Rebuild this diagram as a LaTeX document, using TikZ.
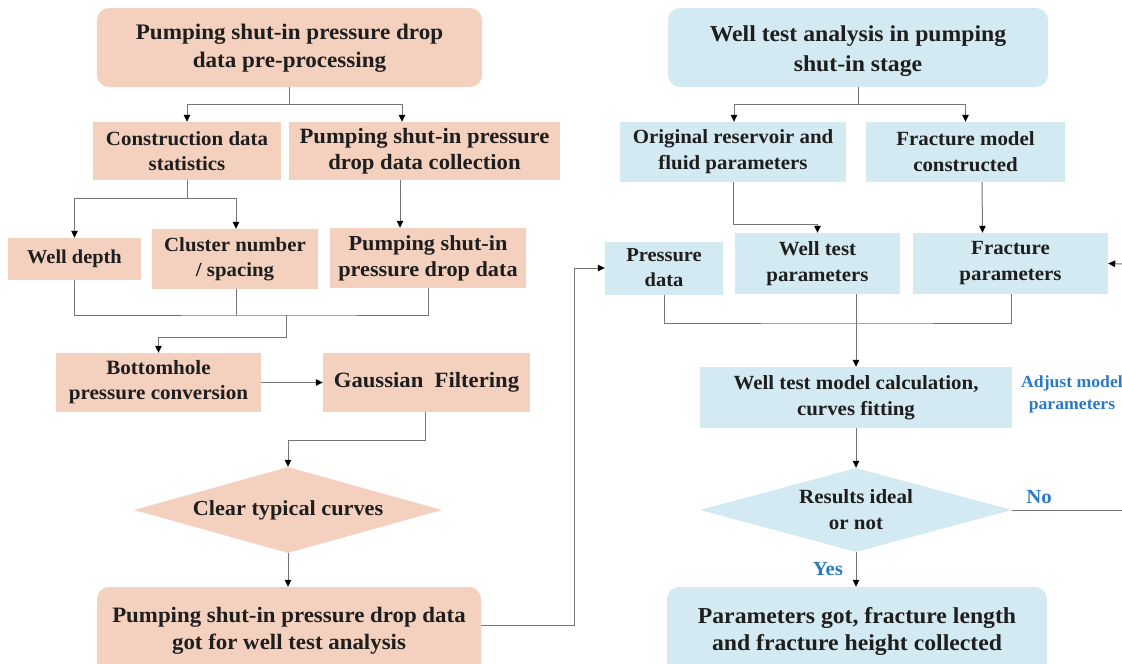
\documentclass[tikz,border=0pt]{standalone}
\usepackage{fontspec}
\setmainfont{Liberation Serif}[FakeStretch=1.04]
\usetikzlibrary{arrows.meta,shapes.geometric,calc}
\definecolor{peach}{RGB}{244,208,190}
\definecolor{sky}{RGB}{212,234,242}
\definecolor{lc}{RGB}{118,118,118}
\definecolor{bt}{RGB}{44,122,196}
\definecolor{tx}{RGB}{30,30,30}
\tikzset{
  box/.style={draw=none, inner sep=2pt, align=center, text=tx},
  pbox/.style={box, fill=peach},
  bbox/.style={box, fill=sky},
  rbox/.style={rounded corners=12pt},
  ln/.style={draw=lc, line width=1pt},
  arr/.style={ln, -{Triangle[length=7pt,width=6.5pt,color=black]}},
  lbl/.style={text=bt, inner sep=0pt, align=center},
}
\begin{document}
\begin{tikzpicture}[x=1pt,y=-1pt]
\useasboundingbox (0,0) rectangle (1122,664);
% ---------- left column ----------
\node[pbox,rbox,minimum width=385,minimum height=79] (L1) at (289.5,47.5) {};
\node[box,font=\bfseries\fontsize{22.2}{28}\selectfont] (L1t) at (289.5,48.5) {Pumping shut-in pressure drop\\data pre-processing};
\node[pbox,minimum width=188,minimum height=58,font=\bfseries\fontsize{20.1}{25}\selectfont] (L2a) at (187,151) {Construction data\\statistics};
\node[pbox,minimum width=271,minimum height=58,font=\bfseries\fontsize{21.8}{26}\selectfont] (L2b) at (424.5,151) {Pumping shut-in pressure\\drop data collection};
\node[pbox,minimum width=133,minimum height=42,font=\bfseries\fontsize{19.6}{24}\selectfont] (L3a) at (74.5,259) {Well depth};
\node[pbox,minimum width=166,minimum height=60,font=\bfseries\fontsize{20}{25}\selectfont] (L3b) at (235,259) {Cluster number\\/ spacing};
\node[pbox,minimum width=196,minimum height=60,font=\bfseries\fontsize{21.4}{26}\selectfont] (L3c) at (428,258) {Pumping shut-in\\pressure drop data};
\node[pbox,minimum width=205,minimum height=59,font=\bfseries\fontsize{20.3}{25}\selectfont] (L4a) at (158.5,382.5) {Bottomhole\\pressure conversion};
\node[pbox,minimum width=207,minimum height=59,font=\bfseries\fontsize{21.8}{26}\selectfont] (L4b) at (426.5,382.5) {Gaussian\ \ Filtering};
\node[diamond,fill=peach,draw=none,inner sep=0pt,minimum width=308,minimum height=86] (D1) at (288,510) {};
\node[box,font=\bfseries\fontsize{21.4}{26}\selectfont] (D1t) at (D1.center) {Clear typical curves};
\node[pbox,rbox,minimum width=384,minimum height=90] (L6) at (289,632) {};
\node[box,font=\bfseries\fontsize{22}{27}\selectfont] (L6t) at (289,631) {Pumping shut-in pressure drop data\\got for well test analysis};
% ---------- right column ----------
\node[bbox,rbox,minimum width=380,minimum height=79] (R1) at (858,47.5) {};
\node[box,font=\bfseries\fontsize{22.8}{30}\selectfont] (R1t) at (858,51) {Well test analysis in pumping\\shut-in stage};
\node[bbox,minimum width=226,minimum height=60,font=\bfseries\fontsize{20.1}{26}\selectfont] (R2a) at (733,152) {Original reservoir and\\fluid parameters};
\node[bbox,minimum width=199,minimum height=60,font=\bfseries\fontsize{20.1}{26}\selectfont] (R2b) at (965.5,152) {Fracture model\\constructed};
\node[bbox,minimum width=118,minimum height=53,font=\bfseries\fontsize{19.7}{25}\selectfont] (R3a) at (664,268) {Pressure\\data};
\node[bbox,minimum width=165,minimum height=61,font=\bfseries\fontsize{20.1}{26}\selectfont] (R3b) at (817.5,263.5) {Well test\\parameters};
\node[bbox,minimum width=195,minimum height=61,font=\bfseries\fontsize{20.1}{26}\selectfont] (R3c) at (1010.5,263.5) {Fracture\\parameters};
\node[bbox,minimum width=312,minimum height=61,font=\bfseries\fontsize{20.1}{26}\selectfont] (R4) at (856,397.5) {Well test model calculation,\\curves fitting};
\node[diamond,fill=sky,draw=none,inner sep=0pt,minimum width=312,minimum height=84] (D2) at (856,510) {};
\node[box,font=\bfseries\fontsize{20.2}{26}\selectfont] (D2t) at (D2.center) {Results ideal\\or not};
\node[bbox,rbox,minimum width=380,minimum height=90] (R6) at (857,632) {};
\node[box,font=\bfseries\fontsize{22.8}{27}\selectfont] (R6t) at (857,631) {Parameters got, fracture length\\and fracture height collected};
% labels
\node[lbl,font=\bfseries\fontsize{17}{22}\selectfont] (adj) at (1072,394) {Adjust model\\parameters};
\node[lbl,font=\bfseries\fontsize{20}{22}\selectfont] (no) at (1039,497) {No};
\node[lbl,font=\bfseries\fontsize{20}{22}\selectfont] (yes) at (828,569) {Yes};
% ---------- left connectors ----------
\draw[arr] (L1.south) -- ++(0,17) -| (L2a.north);
\draw[arr] (L1.south) -- ++(0,17) -| ([xshift=-22.5]L2b.north);
\draw[arr] (L2a.south) -- ++(0,18) -| (L3a.north);
\draw[arr] (L2a.south) -- ++(0,18) -| ([xshift=1]L3b.north);
\draw[arr] ([xshift=-24.5]L2b.south) -- ([xshift=-28]L3c.north);
\coordinate (J1) at (286,315);
\draw[ln] (L3a.south) |- (J1) -| (L3c.south);
\draw[ln] ([xshift=1]L3b.south) -- ([xshift=1]L3b.south |- J1);
\draw[arr] (J1) -- ++(0,22) -| (L4a.north);
\draw[arr] (L4a.east) -- (L4b.west);
\draw[arr] ([xshift=-1.5]L4b.south) -- ++(0,28) -| (D1.north);
\draw[arr] (D1.south) -- (D1.south |- L6.north);
\coordinate (K) at (574,625);
\draw[arr] (L6.east |- K) -- (K) |- (R3a.west);
% ---------- right connectors ----------
\draw[arr] (R1.south) -- ++(0,17) -| ([xshift=1]R2a.north);
\draw[arr] (R1.south) -- ++(0,17) -| (R2b.north);
\draw[arr] (R2a.south) -- ++(0,42) -| (R3b.north);
\draw[arr] ([xshift=16.5]R2b.south) -- ([xshift=-28]R3c.north);
\coordinate (J2) at (856,323);
\draw[ln] (R3a.south) |- (J2) -| ([xshift=1]R3c.south);
\draw[arr] (R3b.south -| J2) -- (R4.north);
\draw[arr] (R4.south) -- (D2.north);
\draw[arr] (D2.south) -- (D2.south |- R6.north);
\coordinate (NE) at (1122,510);
\draw[ln] (D2.east) -- (NE);
\coordinate (FE) at (1122,264);
\draw[arr] (FE) -- (R3c.east);
\end{tikzpicture}
\end{document}
